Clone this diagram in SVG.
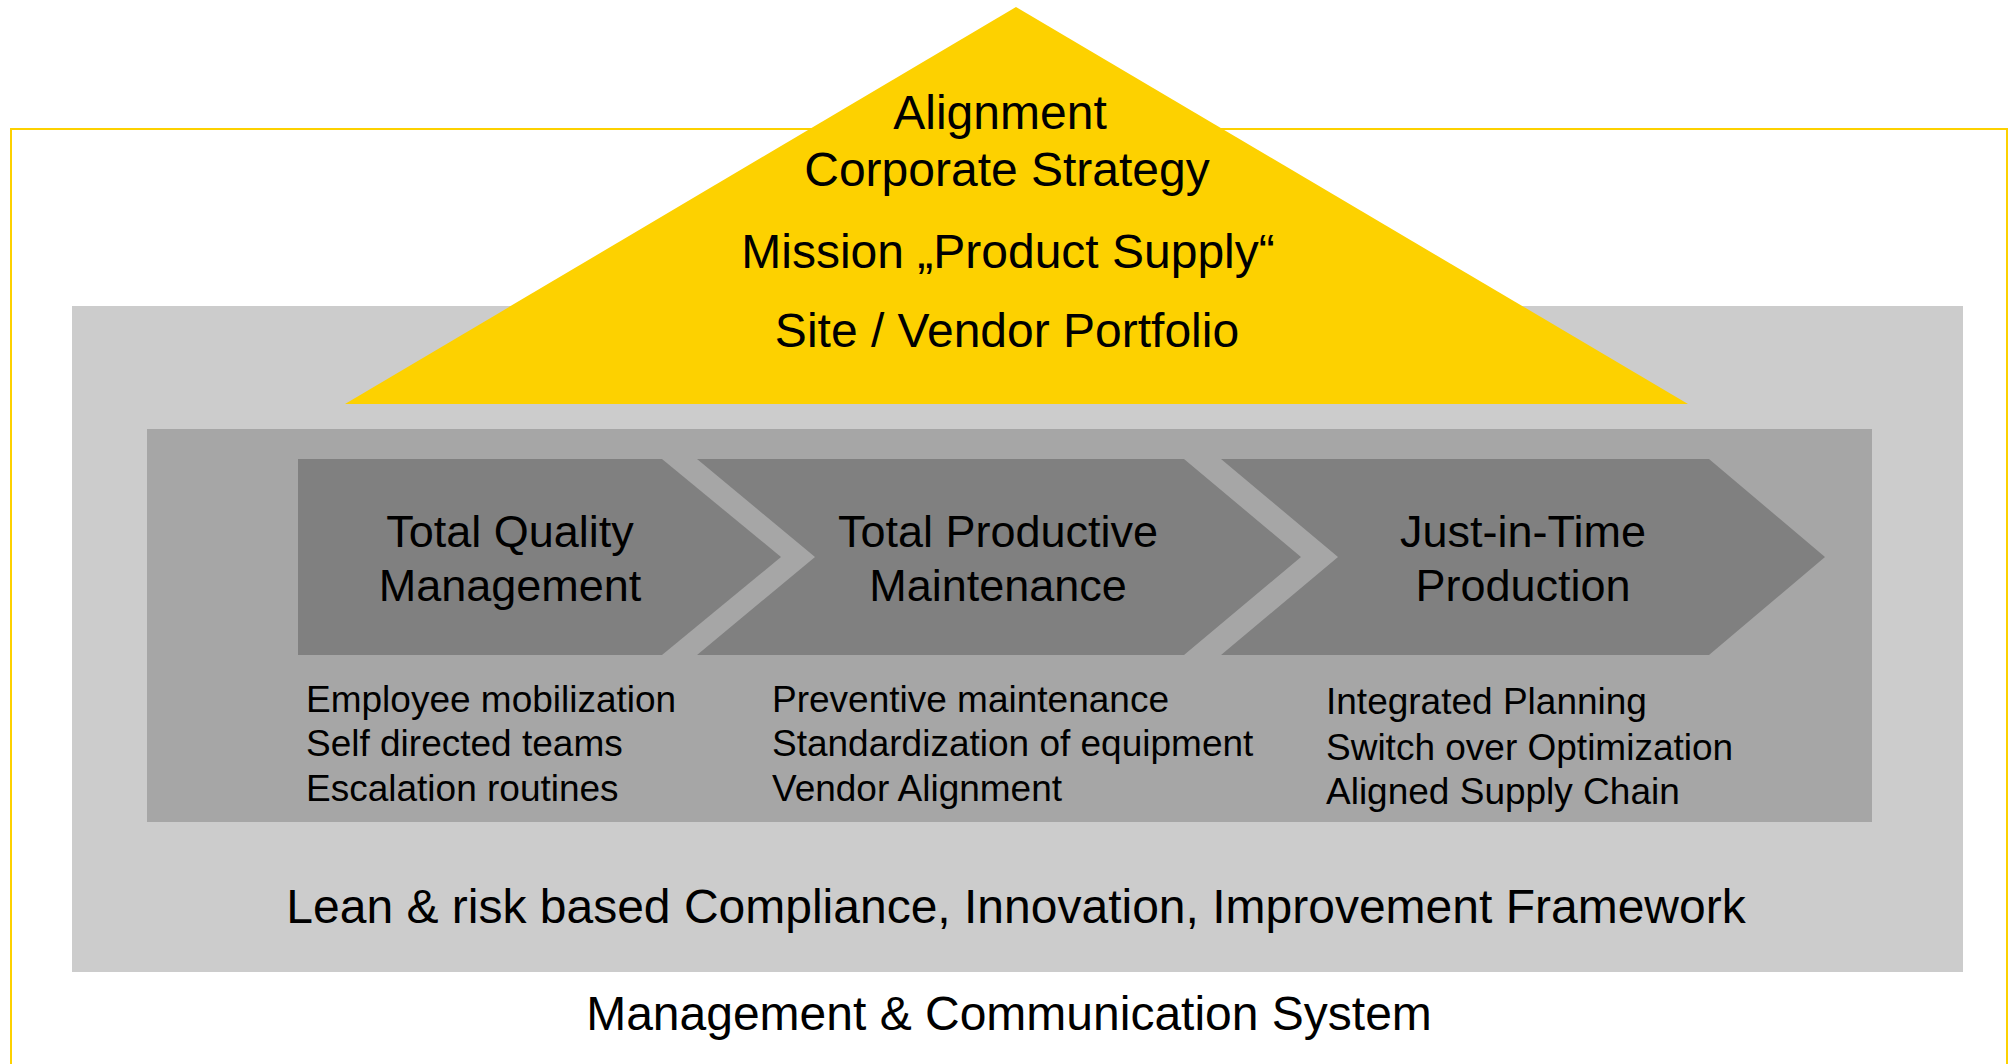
<svg xmlns="http://www.w3.org/2000/svg" width="2011" height="1064" viewBox="0 0 2011 1064">
<style>
text{font-family:"Liberation Sans",Arial,sans-serif;fill:#000}
.big{font-size:48px}
.head{font-size:45px;text-anchor:middle}
.item{font-size:37px}
.chev{fill:#808080}
</style>
<rect x="0" y="0" width="2011" height="1064" fill="#fff"/>
<g id="management-system">
<rect x="11" y="129" width="1996" height="960" fill="none" stroke="#FDD100" stroke-width="2"/>
<text class="big" x="1009" y="1030" text-anchor="middle">Management &amp; Communication System</text>
</g>
<g id="framework">
<rect x="72" y="306" width="1891" height="666" fill="#CCCCCC"/>
<text class="big" x="1016" y="923" text-anchor="middle">Lean &amp; risk based Compliance, Innovation, Improvement Framework</text>
</g>
<g id="roof">
<polygon points="1016,7 345,404 1688,404" fill="#FDD100"/>
<text class="big" x="1000" y="129" text-anchor="middle">Alignment</text>
<text class="big" x="1007" y="186" text-anchor="middle">Corporate Strategy</text>
<text class="big" x="1008" y="268" text-anchor="middle">Mission „Product Supply“</text>
<text class="big" x="1007" y="347" text-anchor="middle">Site / Vendor Portfolio</text>
</g>
<g id="pillars">
<rect x="147" y="429" width="1725" height="393" fill="#A6A6A6"/>
</g>
<g id="tqm">
<polygon class="chev" points="298,459 662,459 781,557 662,655 298,655"/>
<text class="head" x="510" y="547">Total Quality</text>
<text class="head" x="510" y="601">Management</text>
<text class="item" x="306" y="712">Employee mobilization</text>
<text class="item" x="306" y="756">Self directed teams</text>
<text class="item" x="306" y="801">Escalation routines</text>
</g>
<g id="tpm">
<polygon class="chev" points="697,459 1184,459 1301,557 1184,655 697,655 815,557"/>
<text class="head" x="998" y="547">Total Productive</text>
<text class="head" x="998" y="601">Maintenance</text>
<text class="item" x="772" y="712">Preventive maintenance</text>
<text class="item" x="772" y="756">Standardization of equipment</text>
<text class="item" x="772" y="801">Vendor Alignment</text>
</g>
<g id="jit">
<polygon class="chev" points="1221,459 1709,459 1825,557 1709,655 1221,655 1338,557"/>
<text class="head" x="1523" y="547">Just-in-Time</text>
<text class="head" x="1523" y="601">Production</text>
<text class="item" x="1326" y="714">Integrated Planning</text>
<text class="item" x="1326" y="760">Switch over Optimization</text>
<text class="item" x="1326" y="804">Aligned Supply Chain</text>
</g>
<g id="connectors"></g>
</svg>
